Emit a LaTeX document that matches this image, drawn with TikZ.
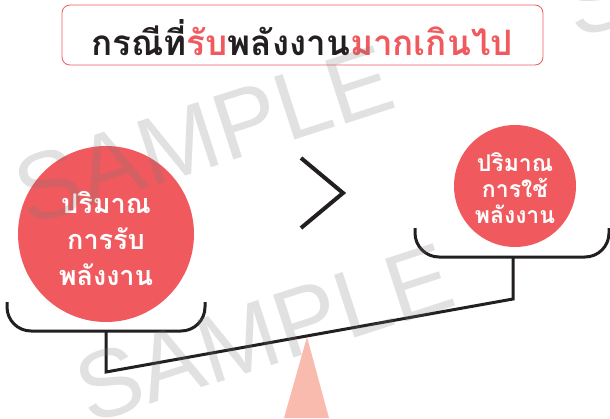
\documentclass[tikz,border=0pt]{standalone}
\usepackage{fontspec}
\newfontfamily\thai[Script=Thai]{Loma}
\newfontfamily\wmfont{Liberation Sans}
\definecolor{cred}{RGB}{240,90,94}
\definecolor{tri}{RGB}{249,187,174}
\definecolor{ink}{RGB}{35,31,32}
\definecolor{wm}{RGB}{120,120,120}
\tikzset{
  ball/.style={circle, fill=cred, inner sep=0pt},
  balltext/.style={text=white, align=center, font=\thai},
  beam/.style={draw=ink, line width=3pt, line join=miter},
  cup/.style={draw=ink, line width=3pt, rounded corners=24pt},
  wmark/.style={text=wm, opacity=0.22, font=\wmfont\fontsize{96}{96}\selectfont, rotate=18, inner sep=0pt}
}
\begin{document}
\begin{tikzpicture}[x=1pt,y=-1pt]
\useasboundingbox (0,0) rectangle (610,418);
% title
\node[draw=cred, line width=0.8pt, rounded corners=8pt, minimum width=481pt, minimum height=60pt] (titlebox) at (302.5,35) {};
\node[font=\thai\bfseries\fontsize{35}{35}\selectfont, text=ink] (title) at (302,38) {กรณีที่\textcolor{cred}{รับ}พลังงาน\textcolor{cred}{มากเกินไป}};
% balls
\node[ball, minimum size=176pt] (lball) at (106,234) {};
\node[balltext, font=\thai\bfseries\fontsize{27}{36}\selectfont] (ltext) at (106,238) {ปริมาณ\\การรับ\\พลังงาน};
\node[ball, minimum size=122pt] (rball) at (515,186) {};
\node[balltext, font=\thai\bfseries\fontsize{23}{26}\selectfont] (rtext) at (515,188) {ปริมาณ\\การใช้\\พลังงาน};
% greater-than sign
\coordinate (gt1) at (301,158);
\coordinate (gt2) at (343,193);
\coordinate (gt3) at (301,228);
\draw[draw=ink, line width=4pt, line join=miter] (gt1) -- (gt2) -- (gt3);
% fulcrum
\coordinate (apex) at (307,337);
\coordinate (bl) at (284,418);
\coordinate (br) at (329,418);
\fill[tri] (apex) -- (bl) -- (br) -- cycle;
% cups and beam
\coordinate (lc1) at (7,302);
\coordinate (lc2) at (7,331);
\coordinate (lc3) at (205,331);
\coordinate (lc4) at (205,302);
\coordinate (lcb) at (106,331);
\coordinate (lpiv) at (106,372);
\coordinate (rpiv) at (513,299);
\coordinate (rcb) at (513,257);
\coordinate (rc1) at (415,228);
\coordinate (rc2) at (415,257);
\coordinate (rc3) at (609,257);
\coordinate (rc4) at (609,228);
\draw[cup] (lc1) -- (lc2) -- (lc3) -- (lc4);
\draw[cup] (rc1) -- (rc2) -- (rc3) -- (rc4);
\draw[beam] (lcb) -- (lpiv) -- (rpiv) -- (rcb);
% watermarks
\begin{scope}
\clip (0,0) rectangle (610,418);
\node[wmark] (wm1) at (204,135) {SAMPLE};
\node[wmark] (wm2) at (264,333) {SAMPLE};
\node[wmark, anchor=west] (wm3) at (566,8) {SAMPLE};
\end{scope}
\end{tikzpicture}
\end{document}
